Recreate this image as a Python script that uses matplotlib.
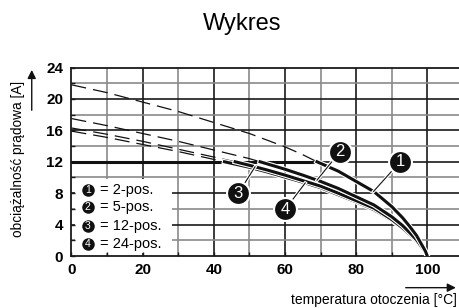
import numpy as np
import matplotlib
matplotlib.use("Agg")
import matplotlib.pyplot as plt
import matplotlib.patheffects as pe
from matplotlib.patches import Rectangle, FancyArrowPatch

plt.rcParams["font.family"] = ["Liberation Sans", "DejaVu Sans"]

# --- data ---
cap_temp = [0, 69]
cap_current = [12, 12]

# solid derating curves (temperature [°C], current [A])
t1 = [69, 72, 75, 80, 85, 90, 93, 95, 97, 98.5, 99.5, 100]
i1 = [12.0, 11.4, 10.8, 9.5, 8.2, 6.3, 4.9, 3.8, 2.6, 1.4, 0.6, 0.0]
t2 = [53, 60, 65, 70, 75, 80, 85, 90, 93, 95, 97, 98.5, 99.5, 100]
i2 = [12.0, 11.05, 10.3, 9.5, 8.6, 7.55, 6.5, 5.0, 3.9, 3.0, 2.05, 1.1, 0.5, 0.0]
t3 = [46, 50, 55, 60, 65, 70, 75, 80, 85, 90, 93, 95, 97, 98.5, 99.5, 100]
i3 = [12.0, 11.55, 10.95, 10.3, 9.6, 8.9, 8.0, 7.05, 6.1, 4.65, 3.6, 2.8, 1.9, 1.05, 0.45, 0.0]
t4 = [43, 50, 55, 60, 65, 70, 75, 80, 85, 90, 93, 95, 97, 98.5, 99.5, 100]
i4 = [12.0, 11.3, 10.7, 10.05, 9.4, 8.7, 7.8, 6.9, 5.9, 4.55, 3.55, 2.75, 1.9, 1.0, 0.45, 0.0]

# dashed (unlimited) extensions above 12 A
d1_t = [0, 10, 20, 30, 40, 50, 60, 65, 69]
d1_i = [21.8, 20.8, 19.6, 18.4, 17.0, 15.6, 13.9, 12.9, 12.0]
d2_t = [0, 10, 20, 30, 40, 50, 53]
d2_i = [17.5, 16.6, 15.6, 14.6, 13.5, 12.4, 12.0]
d3_t = [0, 10, 20, 30, 40, 46]
d3_i = [16.3, 15.5, 14.6, 13.6, 12.6, 12.0]
d4_t = [0, 10, 20, 30, 40, 43]
d4_i = [15.9, 15.1, 14.2, 13.3, 12.3, 12.0]

series_labels = ["2-pos.", "5-pos.", "12-pos.", "24-pos."]
x_ticks = [0, 20, 40, 60, 80, 100]
y_ticks = [0, 4, 8, 12, 16, 20, 24]

# --- figure ---
fig = plt.figure(figsize=(4.6, 3.08), dpi=100)
ax = fig.add_axes([0.1554, 0.1688, 0.8446, 0.612])
ax.set_xlim(0, 109.2)
ax.set_ylim(0, 24)

major_c, minor_c = "#1a1a1a", "#8a8a8a"
for v in range(10, 110, 10):
    ax.axvline(v, color=major_c if v % 20 == 0 else minor_c, lw=1.2, zorder=0.5)
for v in range(2, 24, 2):
    ax.axhline(v, color=major_c if v % 4 == 0 else minor_c, lw=1.2, zorder=0.5)

for s in ["left", "bottom", "top"]:
    ax.spines[s].set_color(major_c)
    ax.spines[s].set_linewidth(1.3)
ax.spines["right"].set_visible(False)

ax.set_xticks(x_ticks)
ax.set_yticks(y_ticks)
ax.set_xticks(range(0, 110, 10), minor=True)
ax.set_yticks(range(0, 25, 2), minor=True)
ax.tick_params(which="both", direction="in", length=3, width=1, color=major_c)
ax.tick_params(axis="x", which="major", pad=5)
ax.tick_params(axis="y", which="major", pad=6)
for lab in ax.get_xticklabels() + ax.get_yticklabels():
    lab.set_fontweight("bold")
    lab.set_fontsize(11)

# legend box (white, covers grid)
ax.add_patch(Rectangle((0.009, 0.017), 0.25, 0.392, transform=ax.transAxes,
                       facecolor="white", edgecolor="none", zorder=1))

halo = [pe.Stroke(linewidth=3.8, foreground="white"), pe.Normal()]
dash_kw = dict(color="#111", lw=0.9, dashes=(12, 5.6), zorder=2)
for dt, di in [(d1_t, d1_i), (d2_t, d2_i), (d3_t, d3_i), (d4_t, d4_i)]:
    ax.plot(dt, di, **dash_kw)

ax.plot(cap_temp, cap_current, color="#111", lw=2.2, zorder=3, solid_capstyle="butt")
curves = [(t1, i1), (t2, i2), (t3, i3), (t4, i4)]
for ct, ci in curves[::-1]:
    ax.plot(ct, ci, color="#111", lw=2.2, zorder=3, path_effects=halo,
            solid_joinstyle="round")

# numbered callouts: circle position and temperature where leader hits the curve
callouts = [((92.4, 12.0), 84.9, 0), ((75.5, 13.3), 69.0, 1),
            ((46.9, 8.0), 51.6, 2), ((60.1, 5.95), 65.7, 3)]
for (cx, cy), tt, k in callouts:
    ct, ci = curves[k]
    ax.plot([cx, tt], [cy, np.interp(tt, ct, ci)], color="#111", lw=0.8, zorder=4,
            path_effects=[pe.Stroke(linewidth=2.4, foreground="white"), pe.Normal()])
    ax.plot(cx, cy, "o", ms=16.5, mfc="#111", mec="white", mew=1.5, zorder=5)
    ax.text(cx, cy, str(k + 1), color="white", fontsize=12, ha="center",
            va="center", zorder=6)

# legend entries
leg_y = [0.35, 0.258, 0.158, 0.0625]
for k, (lab, ly) in enumerate(zip(series_labels, leg_y)):
    ax.plot(0.0417, ly, "o", ms=9, mfc="#111", mec="none", transform=ax.transAxes,
            zorder=5, clip_on=False)
    ax.text(0.0417, ly, str(k + 1), color="white", fontsize=7.5, ha="center",
            va="center", transform=ax.transAxes, zorder=6)
    ax.text(0.0733, ly, "= " + lab, fontsize=10.5, ha="left", va="center",
            transform=ax.transAxes, zorder=6)

# titles and axis labels with arrows
fig.text(0.527, 0.922, "Wykres", fontsize=17, ha="center", va="center")
fig.text(0.039, 0.485, "obciążalność prądowa [A]", fontsize=9.8, rotation=90,
         ha="center", va="center")
fig.text(0.9935, 0.025, "temperatura otoczenia [°C]", fontsize=10, ha="right",
         va="center")
fig.add_artist(FancyArrowPatch((0.069, 0.633), (0.069, 0.782), transform=fig.transFigure,
                               arrowstyle="-|>,head_length=5,head_width=2.5",
                               color="#111", lw=1, mutation_scale=1))
fig.add_artist(FancyArrowPatch((0.876, 0.066), (0.997, 0.066), transform=fig.transFigure,
                               arrowstyle="-|>,head_length=5,head_width=2.5",
                               color="#111", lw=1, mutation_scale=1))

fig.savefig("out.png", dpi=100)
